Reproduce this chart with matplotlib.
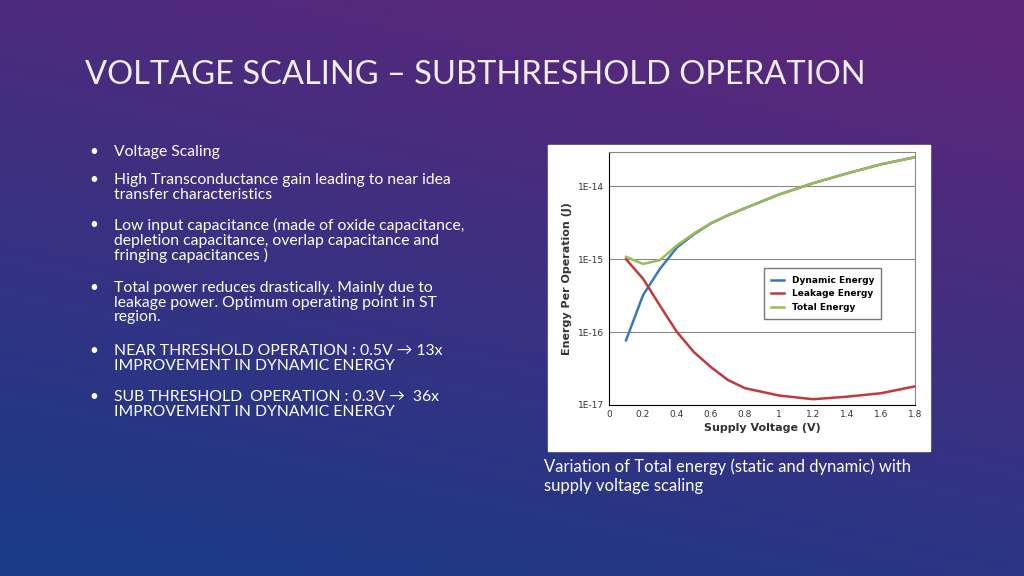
import numpy as np
import matplotlib.pyplot as plt
from matplotlib.patches import Rectangle

voltage = [0.1, 0.2, 0.3, 0.4, 0.5, 0.6, 0.7, 0.8, 1.0, 1.2, 1.4, 1.6, 1.8]
dynamic = [7.7e-17, 3.2e-16, 7.4e-16, 1.45e-15, 2.2e-15, 3.1e-15, 4.0e-15, 5.0e-15,
           7.7e-15, 1.1e-14, 1.5e-14, 2.0e-14, 2.5e-14]
leakage = [1.0e-15, 5.4e-16, 2.3e-16, 1.0e-16, 5.3e-17, 3.3e-17, 2.2e-17, 1.7e-17,
           1.35e-17, 1.2e-17, 1.3e-17, 1.45e-17, 1.8e-17]
total = [d + l for d, l in zip(dynamic, leakage)]

x_ticks = [0, 0.2, 0.4, 0.6, 0.8, 1, 1.2, 1.4, 1.6, 1.8]
y_ticks = [1e-17, 1e-16, 1e-15, 1e-14]
y_labels = ['1E-17', '1E-16', '1E-15', '1E-14']

bullets = [
    ("Voltage Scaling", 145),
    ("High Transconductance gain leading to near idea\ntransfer characteristics", 173),
    ("Low input capacitance (made of oxide capacitance,\ndepletion capacitance, overlap capacitance and\nfringing capacitances )", 218),
    ("Total power reduces drastically. Mainly due to\nleakage power. Optimum operating point in ST\nregion.", 281),
    ("NEAR THRESHOLD OPERATION : 0.5V \u2192 13x\nIMPROVEMENT IN DYNAMIC ENERGY", 344),
    ("SUB THRESHOLD  OPERATION : 0.3V \u2192  36x\nIMPROVEMENT IN DYNAMIC ENERGY", 390),
]
FONT = ['Lato', 'DejaVu Sans']

W, H = 1024, 576
fig = plt.figure(figsize=(10.24, 5.76), dpi=100)

# slide background gradient
bg = fig.add_axes([0, 0, 1, 1])
yy, xx = np.mgrid[0:1:200j, 0:1:300j]
t = np.clip(0.8 * yy + 0.3 * (1 - xx) - 0.05, 0, 1)[..., None]
top = np.array([0x5e, 0x26, 0x7a]) / 255
bot = np.array([0x1a, 0x3a, 0x88]) / 255
bg.imshow(top * (1 - t) + bot * t, extent=[0, W, H, 0], aspect='auto')
bg.set_xlim(0, W)
bg.set_ylim(H, 0)
bg.axis('off')

bg.text(85, 75, "VOLTAGE SCALING \u2013 SUBTHRESHOLD OPERATION", color='#f0eef5',
        fontsize=23.5, family=FONT, va='center')
for txt, y in bullets:
    bg.text(89, y, "\u2022", color='white', fontsize=11, va='top', family=FONT)
    bg.text(114, y, txt, color='white', fontsize=11.3, va='top', family=FONT,
            linespacing=1.05)
bg.text(544, 458, "Variation of Total energy (static and dynamic) with\nsupply voltage scaling",
        color='white', fontsize=12, va='top', family=FONT, linespacing=1.3)

# white picture box
bg.add_patch(Rectangle((548, 145), 382, 306, color='white', zorder=2))

ax = fig.add_axes([609 / W, 1 - 405 / H, 306 / W, 253 / H])
ax.set_yscale('log')
ax.plot(voltage, dynamic, color='#3a78b8', lw=1.8, label='Dynamic Energy')
ax.plot(voltage, leakage, color='#c0393b', lw=1.8, label='Leakage Energy')
ax.plot(voltage, total, color='#9bbb59', lw=1.8, label='Total Energy')
ax.set_xlim(0, 1.8)
ax.set_ylim(1e-17, 2.95e-14)
ax.set_xticks(x_ticks)
ax.set_xticklabels(['0', '0.2', '0.4', '0.6', '0.8', '1', '1.2', '1.4', '1.6', '1.8'])
ax.set_yticks(y_ticks)
ax.set_yticklabels(y_labels)
ax.minorticks_off()
ax.yaxis.grid(True, color='#888888', lw=0.8)
ax.tick_params(labelsize=6.5, length=0, colors='#333333')
ax.set_xlabel('Supply Voltage (V)', fontsize=8, fontweight='bold', color='#333333', labelpad=3)
ax.set_ylabel('Energy Per Operation (J)', fontsize=8, fontweight='bold', color='#333333')
for s in ['top', 'right']:
    ax.spines[s].set_color('#888888')
leg = ax.legend(loc='center right', bbox_to_anchor=(0.905, 0.44), fontsize=6.5,
                frameon=True, fancybox=False, edgecolor='#555555', handlelength=1.5,
                borderpad=0.8)
for t_ in leg.get_texts():
    t_.set_fontweight('bold')

fig.savefig('out.png', dpi=100)
